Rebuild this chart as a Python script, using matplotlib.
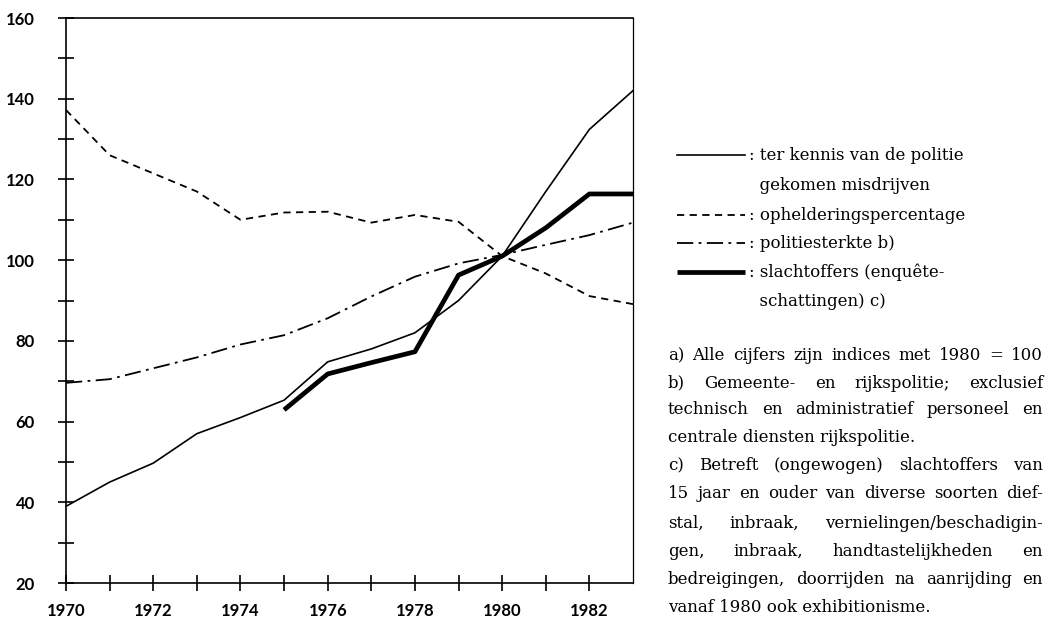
import numpy as np
import matplotlib
matplotlib.use("Agg")
import matplotlib.pyplot as plt

# data (indices, 1980 = 100)
years = np.arange(1970, 1984)
misdrijven = [39, 45, 49.7, 57, 61, 65.3, 74.8, 78, 82, 90, 101, 117, 132.4, 142]
opheldering = [137.2, 126, 121.5, 117, 110, 111.8, 112, 109.3, 111.2, 109.5, 101, 96.7, 91.1, 89.1]
politie = [69.6, 70.5, 73.2, 75.9, 79.1, 81.4, 85.6, 91, 95.9, 99.2, 101.3, 103.8, 106.2, 109.3]
slacht_years = np.arange(1975, 1984)
slachtoffers = [62.9, 71.8, 74.6, 77.3, 96.3, 101, 108, 116.4, 116.4]

legend_labels = [[": ter kennis van de politie", "  gekomen misdrijven"],
                 [": ophelderingspercentage"],
                 [": politiesterkte b)"],
                 [": slachtoffers (enquête-", "  schattingen) c)"]]

notes = [
    ("a)  Alle cijfers zijn indices met 1980 = 100", True),
    ("b)  Gemeente-  en  rijkspolitie;  exclusief", True),
    ("technisch en administratief personeel en", True),
    ("centrale diensten rijkspolitie.", False),
    ("c)  Betreft (ongewogen) slachtoffers van", True),
    ("15 jaar en ouder van diverse soorten dief-", True),
    ("stal, inbraak, vernielingen/beschadigin-", True),
    ("gen, inbraak, handtastelijkheden en", True),
    ("bedreigingen, doorrijden na aanrijding en", True),
    ("vanaf 1980 ook exhibitionisme.", False),
]

W, H = 1049, 619
fig = plt.figure(figsize=(W / 100, H / 100), dpi=100)
ax = fig.add_axes([66 / W, 1 - 583 / H, (633 - 66) / W, (583 - 18) / H])

styles = [dict(ls="-", lw=1.2),
          dict(ls=(0, (4, 3)), lw=1.3),
          dict(ls=(0, (9, 3, 1.5, 3)), lw=1.3),
          dict(ls="-", lw=3.4, solid_capstyle="butt")]

ax.plot(years, misdrijven, color="black", **styles[0])
ax.plot(years, opheldering, color="black", **styles[1])
ax.plot(years, politie, color="black", **styles[2])
ax.plot(slacht_years, slachtoffers, color="black", **styles[3])

ax.set_xlim(1970, 1983)
ax.set_ylim(20, 160)
ax.set_xticks(np.arange(1970, 1983, 2))
ax.set_xticks(np.arange(1971, 1983, 2), minor=True)
ax.set_yticks(np.arange(20, 161, 20))
ax.set_yticks(np.arange(30, 160, 20), minor=True)
tickfont = dict(family="Lato", weight="bold", size=12)
ax.set_xticklabels([str(y) for y in range(1970, 1983, 2)], fontdict=tickfont)
ax.set_yticklabels([str(v) for v in range(20, 161, 20)], fontdict=tickfont)
ax.tick_params(which="both", direction="inout", length=11, width=1.2, color="black")
ax.tick_params(axis="y", pad=17)
ax.tick_params(axis="x", pad=9)
for s in ax.spines.values():
    s.set_linewidth(1.2)
ax.spines["right"].set_linewidth(0.9)

# overlay in pixel coordinates for legend and notes
ov = fig.add_axes([0, 0, 1, 1])
ov.set_xlim(0, W)
ov.set_ylim(H, 0)
ov.axis("off")

serif = dict(family="DejaVu Serif", size=12, color="black")
leg_rows = [[155, 185], [215], [243], [272, 302]]
for st, labs, rows in zip(styles, legend_labels, leg_rows):
    ov.plot([677, 745], [rows[0], rows[0]], color="black", **st)
    for lab, yy in zip(labs, rows):
        ov.text(749, yy, lab, va="center", ha="left", **serif)

fig.canvas.draw()
renderer = fig.canvas.get_renderer()
x0, x1 = 668, 1043
note_rows = [356, 383, 410, 438, 466, 494, 523, 551, 579, 607]
inv = ov.transData.inverted()
for (line, just), yy in zip(notes, note_rows):
    if not just:
        ov.text(x0, yy, line, va="center", ha="left", **serif)
        continue
    words = line.split()
    arts = [ov.text(0, yy, w, va="center", ha="left", **serif) for w in words]
    widths = []
    for a in arts:
        bb = a.get_window_extent(renderer)
        p0 = inv.transform((bb.x0, bb.y0))
        p1 = inv.transform((bb.x1, bb.y0))
        widths.append(p1[0] - p0[0])
    gap = (x1 - x0 - sum(widths)) / max(len(words) - 1, 1)
    xx = x0
    for a, w in zip(arts, widths):
        a.set_x(xx)
        xx += w + gap

fig.savefig("out.png", dpi=100)
